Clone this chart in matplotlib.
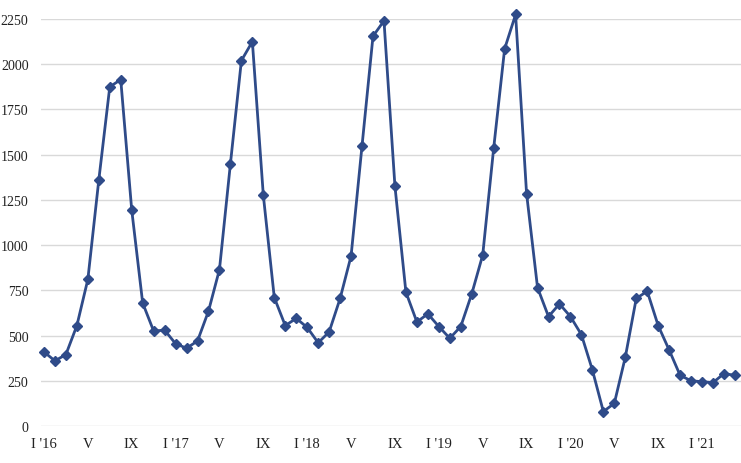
import matplotlib
matplotlib.use("Agg")
import matplotlib.pyplot as plt

# monthly values, Jan 2016 .. Apr 2021
values = [
    410, 360, 395, 555, 810, 1360, 1875, 1915, 1195, 680, 525, 530,   # 2016
    455, 430, 470, 635, 865, 1450, 2020, 2125, 1275, 710, 555, 595,  # 2017
    545, 460, 520, 705, 940, 1550, 2155, 2240, 1325, 740, 575, 620,  # 2018
    550, 485, 550, 730, 945, 1535, 2085, 2275, 1285, 765, 605, 675,  # 2019
    605, 505, 310, 80, 125, 380, 705, 745, 555, 420, 280, 250,       # 2020
    245, 240, 290, 280,                                              # 2021
]
months = list(range(len(values)))

tick_pos = list(range(0, 61, 4))
tick_labels = ["I '16", "V", "IX", "I '17", "V", "IX", "I '18", "V", "IX",
               "I '19", "V", "IX", "I '20", "V", "IX", "I '21"]
y_ticks = [0, 250, 500, 750, 1000, 1250, 1500, 1750, 2000, 2250]

plt.rcParams['font.family'] = ['Liberation Serif', 'DejaVu Serif']

fig = plt.figure(figsize=(7.41, 4.64), dpi=100)
ax = fig.add_axes([41 / 741, 1 - 427 / 464, 1 - 41 / 741, (427 - 20) / 464])

ax.plot(months, values, color='#2f4b89', lw=2, marker='D', markersize=5,
        clip_on=False, zorder=3)

ax.set_xlim(-0.27, 63.55)
ax.set_ylim(0, 2250)
ax.set_xticks(tick_pos)
ax.set_xticklabels(tick_labels)
ax.set_yticks(y_ticks)

ax.grid(axis='y', color='#d9d9d9', lw=1)
ax.set_axisbelow(True)
for s in ax.spines.values():
    s.set_visible(False)
ax.tick_params(length=0, labelsize=10.5, colors='#222222')
ax.tick_params(axis='y', pad=9, labelsize=10)
ax.tick_params(axis='x', pad=8)

fig.savefig("out.png", dpi=100)
